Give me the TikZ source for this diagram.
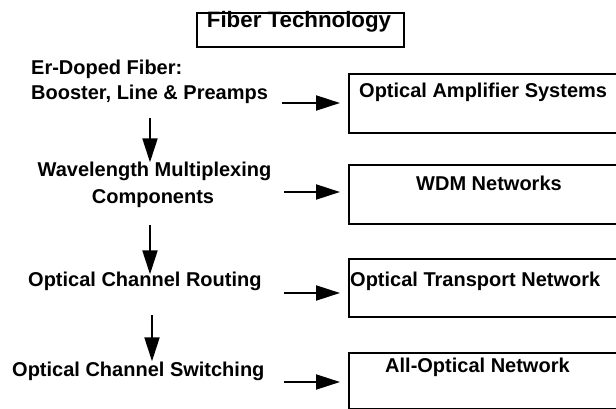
\documentclass[tikz,border=0pt]{standalone}
\usepackage{fontspec}
\setmainfont{Liberation Sans}
\usetikzlibrary{arrows.meta}
\begin{document}
\begin{tikzpicture}[x=1pt,y=-1pt,
  txt/.style={inner sep=0pt,font=\fontsize{20}{24}\selectfont\bfseries},
  box/.style={draw,line width=2pt,inner sep=0pt,anchor=north west},
  arr/.style={line width=2pt,-{Triangle[length=24pt,width=15pt]}}]
\useasboundingbox (0,0) rectangle (616,409);
\clip (0,0) rectangle (616,409);
% title
\node[box,minimum width=207pt,minimum height=34pt] (ft) at (196,12) {};
\node[txt,anchor=base,font=\fontsize{22.3}{26}\selectfont\bfseries] (ftt) at (299,28) {Fiber Technology};
% left column texts
\node[txt,anchor=base west] (e1) at (31,75) {Er-Doped Fiber:};
\node[txt,anchor=base west] (e2) at (31,100) {Booster, Line \& Preamps};
\node[txt,anchor=base] (w1) at (154.5,177) {Wavelength Multiplexing};
\node[txt,anchor=base] (w2) at (153,204) {Components};
\node[txt,anchor=base west] (r) at (28,286) {Optical Channel Routing};
\node[txt,anchor=base west] (s) at (12,376) {Optical Channel Switching};
% right boxes
\node[box,minimum width=300pt,minimum height=59pt] (b1) at (348,73) {};
\node[txt,anchor=base west] (b1t) at (359,98) {Optical Amplifier Systems};
\node[box,minimum width=300pt,minimum height=59pt] (b2) at (348,164) {};
\node[txt,anchor=base] (b2t) at (489,190) {WDM Networks};
\node[box,minimum width=300pt,minimum height=58pt] (b3) at (348,258) {};
\node[txt,anchor=base west] (b3t) at (350,286) {Optical Transport Network};
\node[box,minimum width=300pt,minimum height=56pt] (b4) at (348,352) {};
\node[txt,anchor=base west] (b4t) at (385,372) {All-Optical Network};
% horizontal arrows
\coordinate (h1) at (282,103);
\coordinate (h2) at (284,192);
\coordinate (h3) at (284,293);
\coordinate (h4) at (284,382);
\draw[arr,shorten >=8pt] (h1) -- (h1 -| b1.west);
\draw[arr,shorten >=8pt] (h2) -- (h2 -| b2.west);
\draw[arr,shorten >=8pt] (h3) -- (h3 -| b3.west);
\draw[arr,shorten >=8pt] (h4) -- (h4 -| b4.west);
% vertical arrows
\coordinate (v1) at (150,118);
\coordinate (v2) at (150,225);
\coordinate (v3) at (152,315);
\draw[arr] (v1) -- (v1 |- w1.north);
\draw[arr] (v2) -- ([yshift=-3pt]v2 |- r.north);
\draw[arr] (v3) -- (v3 |- s.north);
\end{tikzpicture}
\end{document}
